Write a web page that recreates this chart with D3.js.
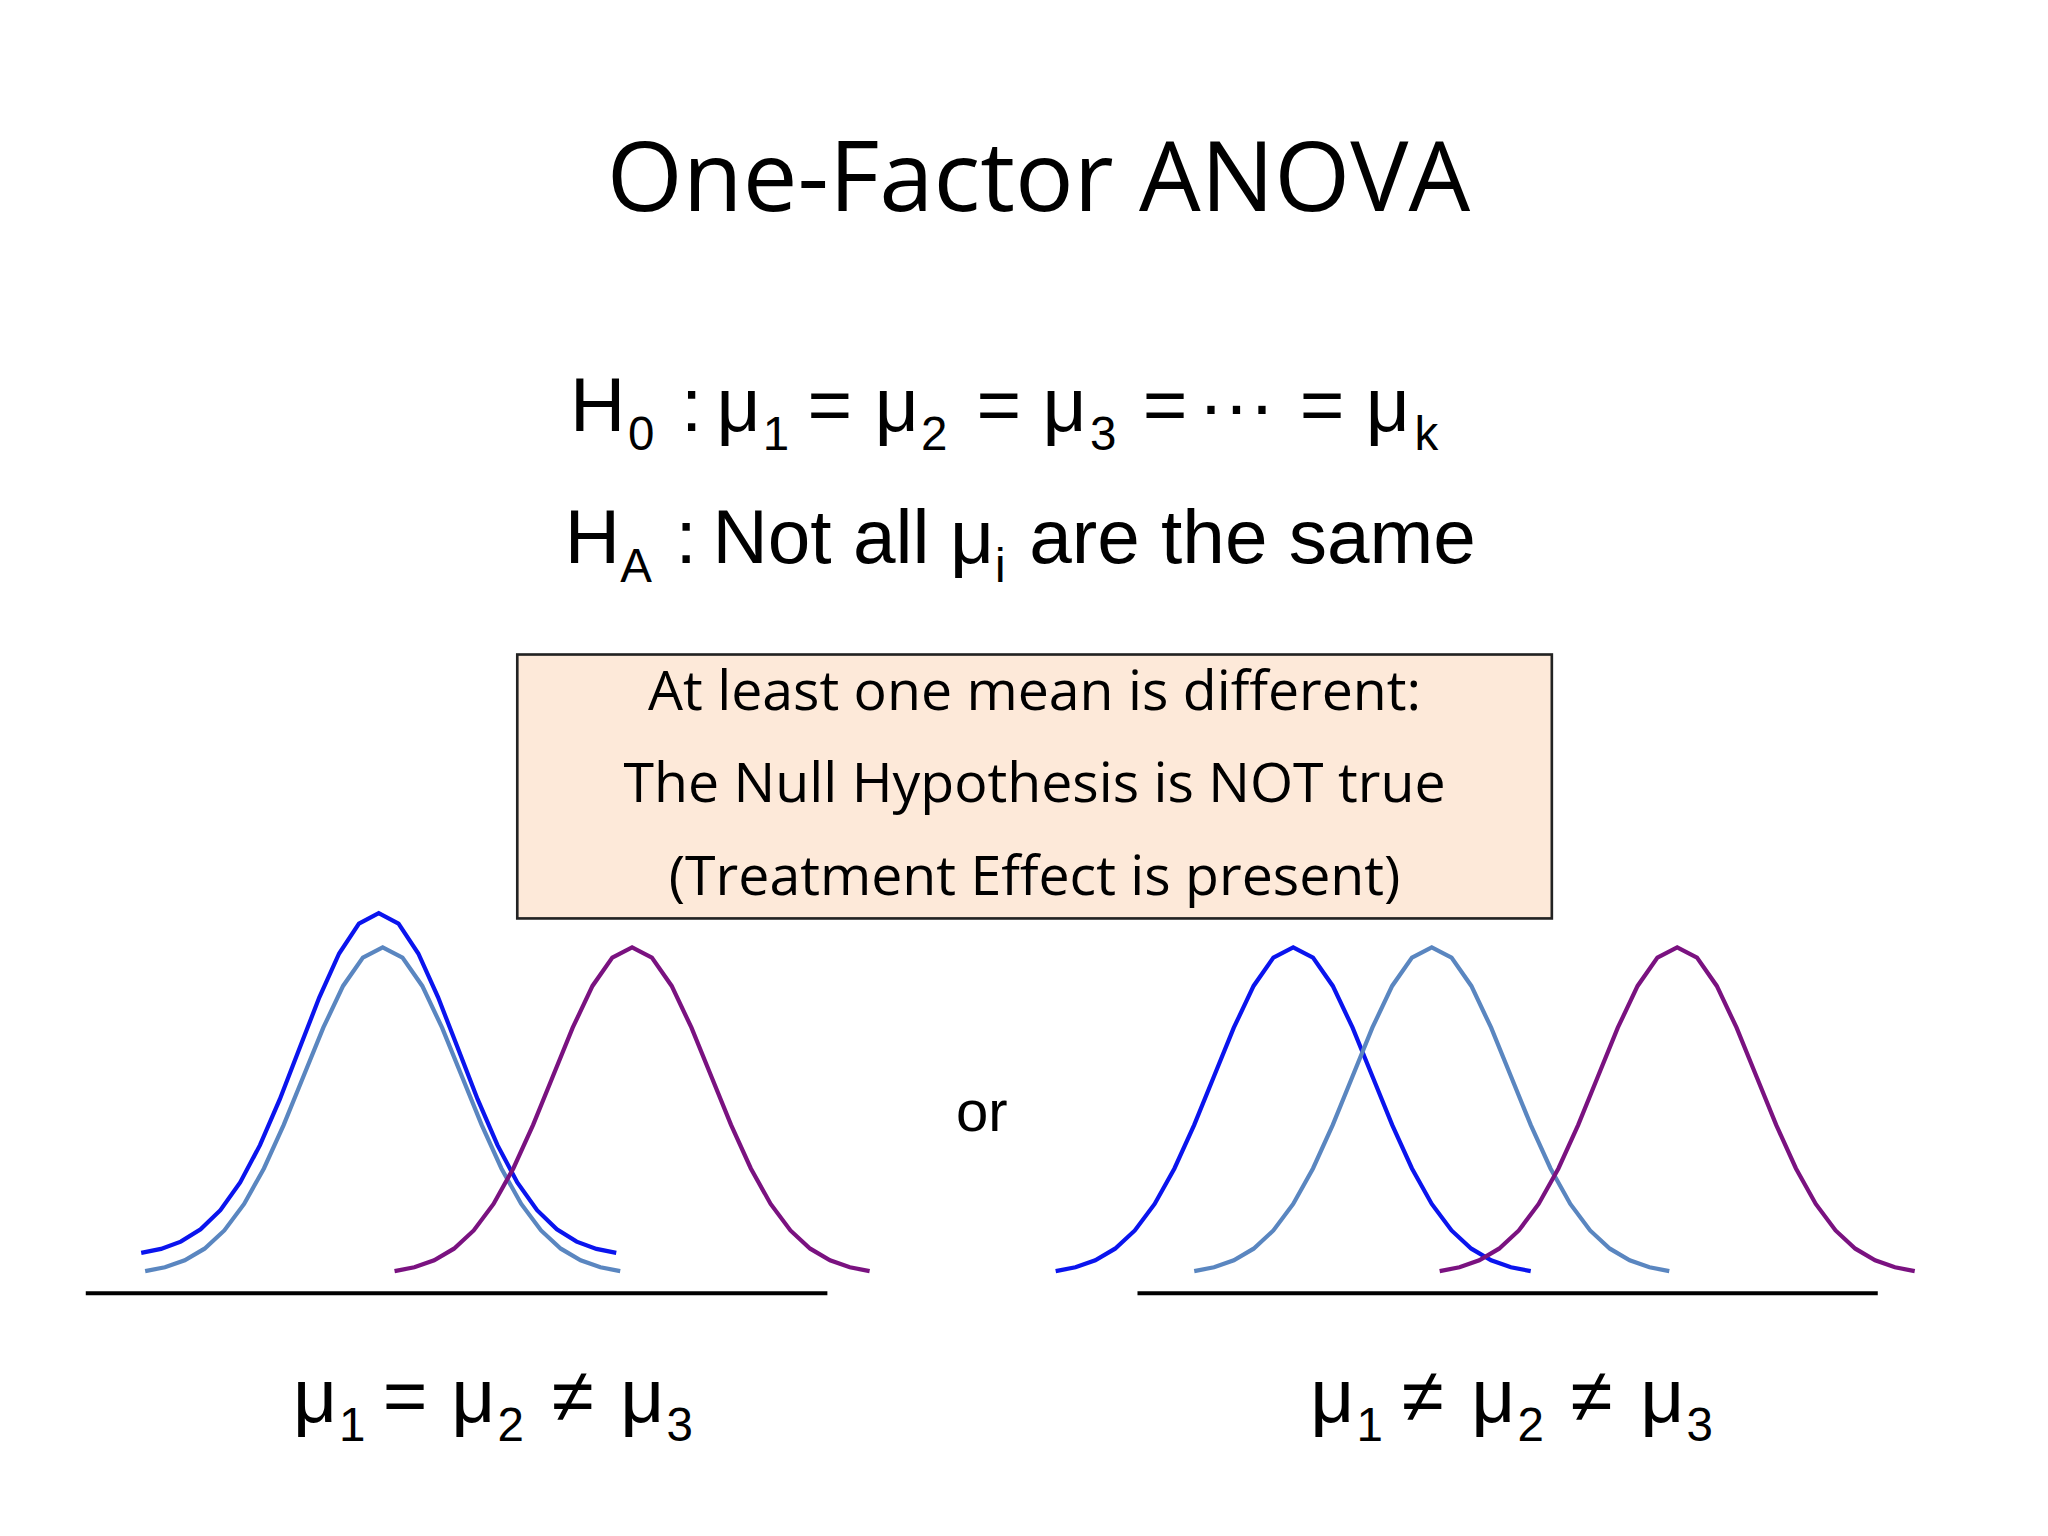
<!DOCTYPE html>
<html><head><meta charset="utf-8">
<script src="https://cdn.jsdelivr.net/npm/d3@7"></script>
<style>body{margin:0;background:#fff}</style></head>
<body><svg id="c" width="2048" height="1536" viewBox="0 0 1552 1164"></svg>
<script>
// Data
const curveColors = ["#0a14ee", "#5a86c0", "#7a1280"];
const leftMeans = [0, 0.05, 3.2];      // in sigma units
const leftScale = [1.05, 1.0, 1.0];    // relative peak heights
const leftLift = [0.055, 0, 0];        // relative vertical offset
const rightMeans = [0, 1.75, 4.85];
const rightScale = [1.0, 1.0, 1.0];
const boxLines = ["At least one mean is different:", "The Null Hypothesis is NOT true", "(Treatment Effect is present)"];
// [text, x, isSubscript]
const h0Parts = [["H",432],["0",476,1],[":",516],["μ",543],["1",578,1],["=",612],["μ",663],["2",698,1],["=",740],["μ",790],["3",826,1],["=",866],["···",908],["=",985],["μ",1035],["k",1072,1]];
const hAParts = [["H",428],["A",470,1],[":",512],["Not all",540],["μ",720],["i",754,1],["are the same",780]];
const leftLabel = [["μ",222],["1",257,1],["=",290],["μ",342],["2",377,1],["≠",418],["μ",470],["3",505,1]];
const rightLabel = [["μ",993],["1",1028,1],["≠",1062],["μ",1115],["2",1150,1],["≠",1190],["μ",1243],["3",1278,1]];

const svg = d3.select("#c");
svg.append("text").attr("x",787).attr("y",160).attr("text-anchor","middle")
  .attr("font-family","Open Sans, Lato, sans-serif").attr("font-size",74).text("One-Factor ANOVA");

const F = "Liberation Sans, Arial, sans-serif";
function seq(parts, y){
  parts.forEach(p=>{
    svg.append("text").attr("x",p[1]).attr("y",p[2]? y+14 : y).attr("font-family",F)
      .attr("font-size",p[2]?36:58).text(p[0]);
  });
}
seq(h0Parts, 327);
seq(hAParts, 427);

svg.append("rect").attr("x",392).attr("y",496).attr("width",784).attr("height",200)
  .attr("fill","#fde9d9").attr("stroke","#222").attr("stroke-width",2);
boxLines.forEach((l,i)=>svg.append("text").attr("x",784).attr("y",538+i*70).attr("text-anchor","middle")
  .attr("font-family","Open Sans, Lato, sans-serif").attr("font-size",42).text(l));
svg.append("text").attr("x",744).attr("y",857).attr("text-anchor","middle").attr("font-family",F).attr("font-size",44).text("or");

const pdf = z => Math.exp(-z*z/2);
const y = d3.scaleLinear().domain([0,1]).range([966,718]);
function drawPanel(x0, means, scales, lifts, axis){
  const x = d3.scaleLinear().domain([0,1]).range([x0, x0+60]);
  means.forEach((m,i)=>{
    const pts = d3.range(-3,3.001,0.25).map(z=>[x(m+z), y(pdf(z)*scales[i]+(lifts?lifts[i]:0))]);
    svg.append("path").attr("d",d3.line()(pts)).attr("fill","none").attr("stroke",curveColors[i]).attr("stroke-width",3.2);
  });
  svg.append("line").attr("x1",axis[0]).attr("x2",axis[1]).attr("y1",980).attr("y2",980).attr("stroke","#000").attr("stroke-width",3);
}
drawPanel(287, leftMeans, leftScale, leftLift, [65,627]);
drawPanel(980, rightMeans, rightScale, null, [862,1423]);
seq(leftLabel, 1078);
seq(rightLabel, 1078);
</script></body></html>
